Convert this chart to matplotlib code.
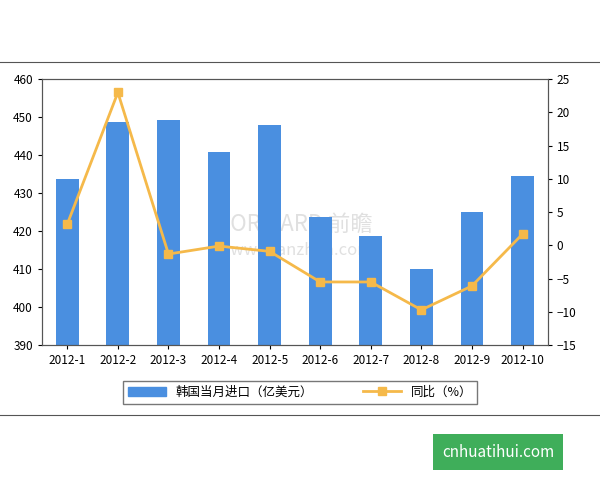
import matplotlib.pyplot as plt
from matplotlib.lines import Line2D

plt.rcParams['font.family'] = ['Noto Sans CJK SC', 'DejaVu Sans']

months = ['2012-1', '2012-2', '2012-3', '2012-4', '2012-5',
          '2012-6', '2012-7', '2012-8', '2012-9', '2012-10']
imports = [433.7, 448.7, 449.2, 440.8, 447.9, 423.7, 418.7, 410.0, 425.0, 434.5]
yoy = [3.2, 23.0, -1.3, -0.1, -0.9, -5.5, -5.5, -9.7, -6.1, 1.7]

fig = plt.figure(figsize=(6, 4.8), dpi=100)
ax = fig.add_axes([0.07, 0.281, 0.843, 0.554])
x = range(len(months))
ax.bar(x, [v - 390 for v in imports], bottom=390, width=0.45, color='#4a8fe0', zorder=2)
ax.set_ylim(390, 460)
ax.set_yticks(range(390, 461, 10))
ax.set_xlim(-0.5, len(months) - 0.5)
ax.set_xticks(list(x))
ax.set_xticklabels(months)
ax.tick_params(labelsize=8.5, length=3)

ax2 = ax.twinx()
ax2.plot(x, yoy, color='#f5b94a', lw=2, marker='s', ms=6, zorder=3)
ax2.set_ylim(-15, 25)
ax2.set_yticks(range(-15, 26, 5))
ax2.tick_params(labelsize=8.5, length=3)
for a in (ax, ax2):
    for s in a.spines.values():
        s.set_color('#555555')

ax.text(0.5, 0.43, 'FORWARD 前瞻', transform=ax.transAxes, ha='center', fontsize=16,
        color='#cccccc', alpha=0.6, zorder=1)
ax.text(0.5, 0.34, 'www.qianzhan.com', transform=ax.transAxes, ha='center', fontsize=12,
        color='#cccccc', alpha=0.6, zorder=1)

handles = [plt.Rectangle((0, 0), 1, 1, color='#4a8fe0'),
           Line2D([], [], color='#f5b94a', lw=2, marker='s', ms=6)]
leg = fig.legend(handles, ['韩国当月进口（亿美元）', '同比（%）'], loc='center',
                 bbox_to_anchor=(0.5, 0.183), ncol=2, fontsize=9, fancybox=False,
                 edgecolor='#555555', handlelength=3, columnspacing=4)

fig.add_artist(Line2D([0, 1], [0.871, 0.871], color='#555555', lw=0.8))
fig.add_artist(Line2D([0, 1], [0.135, 0.135], color='#555555', lw=0.8))
fig.text(0.83, 0.058, 'cnhuatihui.com', ha='center', va='center', fontsize=11,
         color='white', bbox=dict(boxstyle='square,pad=0.6', fc='#3fae5a', ec='none'))

fig.savefig('out.png')
